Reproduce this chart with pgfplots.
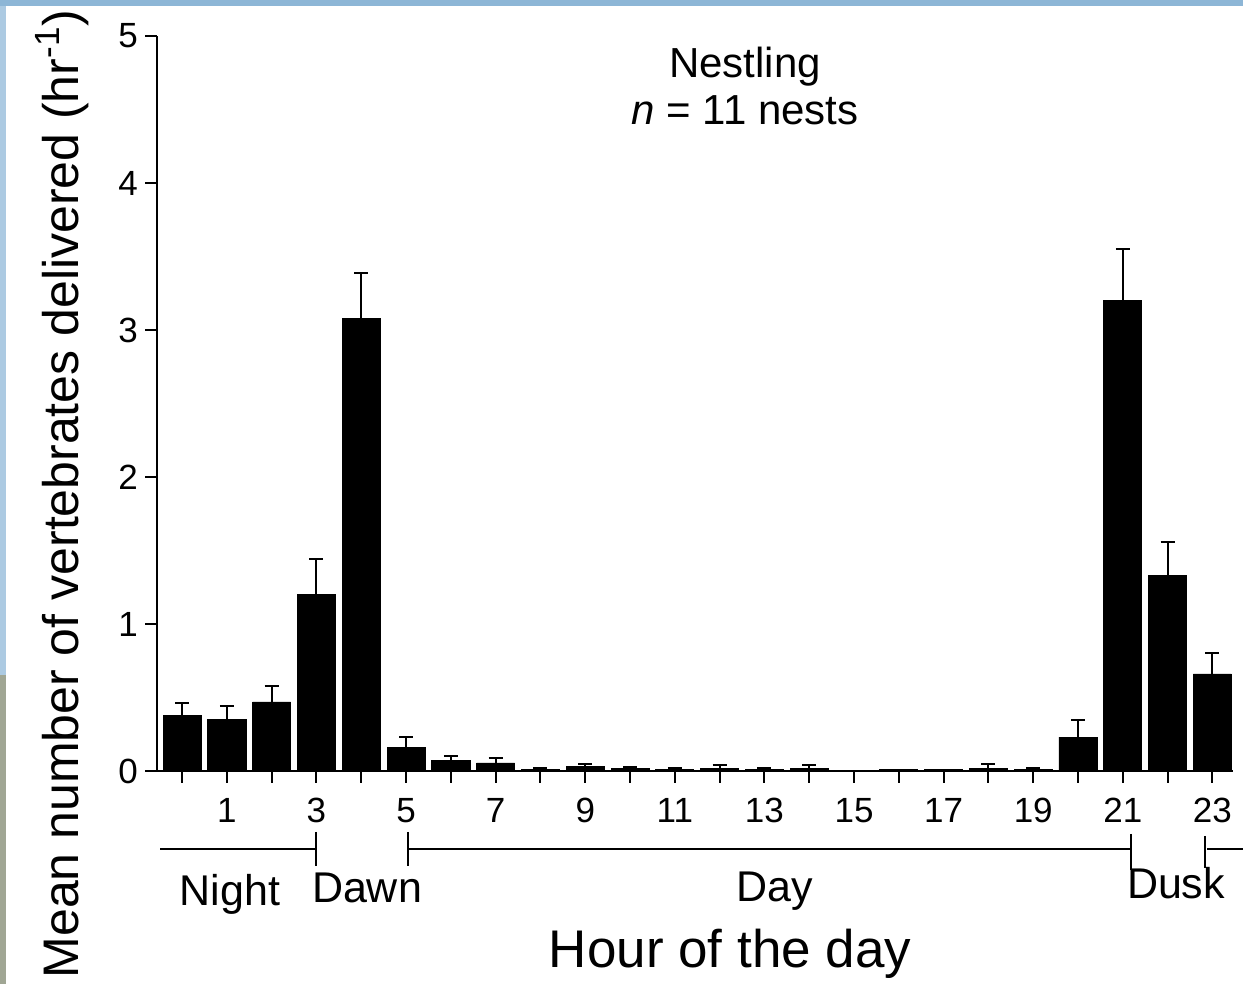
\documentclass[border=0pt]{standalone}
\usepackage{pgfplots}
\pgfplotsset{compat=1.18}
\usepackage{pgfplotstable}
\usepackage{fontspec}
\setmainfont{Liberation Sans}
\definecolor{bandblue}{RGB}{141,182,214}
\definecolor{bandblue2}{RGB}{172,202,226}
\definecolor{bandgrey}{RGB}{160,166,148}

\pgfplotstableread{
h v e
0 0.38 0.08
1 0.35 0.09
2 0.47 0.11
3 1.20 0.24
4 3.08 0.31
5 0.16 0.07
6 0.07 0.03
7 0.055 0.035
8 0.01 0.01
9 0.03 0.02
10 0.02 0.01
11 0.01 0.01
12 0.02 0.02
13 0.01 0.01
14 0.02 0.02
15 0.00 0.00
16 0.01 0.00
17 0.01 0.00
18 0.02 0.03
19 0.01 0.01
20 0.23 0.12
21 3.20 0.35
22 1.33 0.23
23 0.66 0.14
}\hourdata

\begin{document}
\begin{tikzpicture}[x=0.5pt,y=0.5pt]
\useasboundingbox (0,0) rectangle (1243,984);
\fill[white] (0,0) rectangle (1243,984);
\fill[bandblue] (0,978) rectangle (1243,984);
\fill[bandblue2] (0,309) rectangle (6,978);
\fill[bandgrey] (0,0) rectangle (6,309);

\begin{axis}[
  at={(78.5pt,106.5pt)}, anchor=south west,
  scale only axis, width=538pt, height=367.5pt,
  xmin=-0.56, xmax=23.46, ymin=0, ymax=5,
  axis x line=bottom, axis y line=left,
  axis line style={-, line width=1.4pt, black},
  ybar, bar width=0.85,
  xtick={0,...,23},
  xticklabels={,1,,3,,5,,7,,9,,11,,13,,15,,17,,19,,21,,23},
  ytick={0,1,2,3,4,5},
  tick align=outside, major tick length=6pt,
  tick style={line width=1pt, black},
  /pgf/number format/assume math mode=true,
  every tick label/.append style={font=\fontsize{17.5}{20}\selectfont},
  tick label style={font=\fontsize{17.5}{20}\selectfont},
  xticklabel style={yshift=-4pt},
]
\addplot[fill=black, draw=black,
  error bars/.cd, y dir=plus, y explicit,
  error bar style={line width=1pt, black},
  error mark options={rotate=90, mark size=3.5pt, line width=1pt, black}]
  table[x=h, y=v, y error=e]{\hourdata};
\end{axis}

% period dividers
\draw[line width=0.8pt] (160,135) -- (316,135);
\draw[line width=0.8pt] (408,135) -- (1131,135);
\draw[line width=0.8pt] (1207,135) -- (1243,135);
\draw[line width=0.8pt] (316,152) -- (316,118);
\draw[line width=0.8pt] (408,152) -- (408,118);
\draw[line width=0.8pt] (1131,150) -- (1131,114);
\draw[line width=0.8pt] (1205,148) -- (1205,116);

\node[anchor=base, font=\fontsize{21.5}{24}\selectfont] at (230,78) {Night};
\node[anchor=base, font=\fontsize{21.5}{24}\selectfont] at (367,81) {Dawn};
\node[anchor=base, font=\fontsize{21.5}{24}\selectfont] at (775,82) {Day};
\node[anchor=base, font=\fontsize{21.5}{24}\selectfont] at (1176,85) {Dusk};
\node[anchor=base, font=\fontsize{26.5}{30}\selectfont] at (730,16) {Hour of the day};

\node[anchor=base, font=\fontsize{21}{24}\selectfont] at (745,906) {Nestling};
\node[anchor=base, font=\fontsize{21}{24}\selectfont] at (745,859) {\textit{n} = 11 nests};

\node[anchor=base, rotate=90, font=\fontsize{25}{28}\selectfont] at (78,490)
  {Mean number of vertebrates delivered (hr\textsuperscript{-1})};
\end{tikzpicture}
\end{document}
